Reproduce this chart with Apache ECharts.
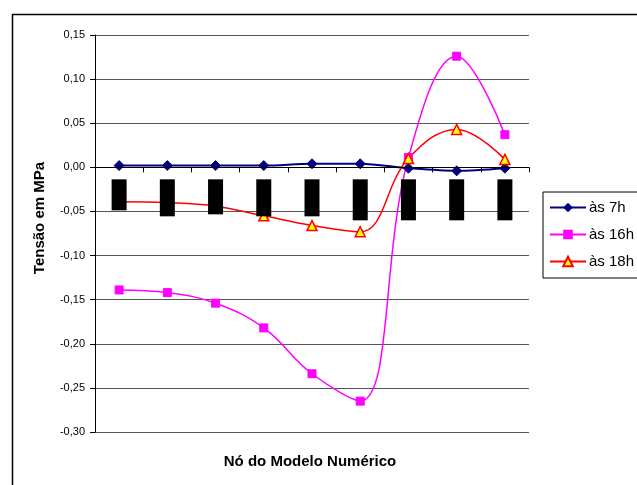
<!DOCTYPE html>
<html>
<head>
<meta charset="utf-8">
<script src="https://cdn.jsdelivr.net/npm/echarts@6/dist/echarts.min.js"></script>
<style>
  html, body { margin: 0; padding: 0; background: #fff; }
  #chart { width: 637px; height: 485px; }
</style>
</head>
<body>
<div id="chart"></div>
<script>
// Nodes of the numerical model (category axis)
const nodes = ['1', '2', '3', '4', '5', '6', '7', '8', '9'];

// Stress (MPa) at each node for three times of day
const stress7h  = [0.002, 0.002, 0.002, 0.002, 0.004, 0.004, -0.001, -0.004, -0.001];
const stress16h = [-0.139, -0.142, -0.154, -0.182, -0.234, -0.265, 0.011, 0.126, 0.037];
const stress18h = [-0.039, -0.040, -0.044, -0.055, -0.066, -0.073, 0.010, 0.043, 0.009];

const seriesNames = ['às 7h', 'às 16h', 'às 18h'];

// Y axis range and step
const yMin = -0.30, yMax = 0.15, yStep = 0.05;

// Plot area
const gridTop = 35, gridHeight = 397;
// Category axis sits on the zero line: shift it up from the grid bottom
const zeroOffset = -gridHeight * (0 - yMin) / (yMax - yMin);

// Node labels are shown as solid blocks of varying height
const labelBlockHeights = [31, 37, 35, 37, 37, 41, 41, 41, 41];
const rich = {};
labelBlockHeights.forEach((h, i) => {
  rich['b' + i] = {
    width: 15, height: h, backgroundColor: '#000', color: '#000',
    fontSize: 10, align: 'center', verticalAlign: 'top'
  };
});

const FONT = '"Liberation Sans", Arial, sans-serif';

const chart = echarts.init(document.getElementById('chart'), null, { renderer: 'canvas' });

chart.setOption({
  animation: false,
  backgroundColor: '#fff',
  textStyle: { fontFamily: FONT },
  grid: { left: 95, top: gridTop, width: 434, height: gridHeight, containLabel: false },
  xAxis: {
    type: 'category',
    data: nodes,
    boundaryGap: true,
    offset: zeroOffset,
    z: 3,
    axisLine: { onZero: false, lineStyle: { color: '#000', width: 1 } },
    axisTick: { show: true, length: 5, interval: 0, lineStyle: { color: '#000' } },
    axisLabel: {
      interval: 0,
      margin: 12,
      verticalAlign: 'top',
      formatter: (v, i) => '{b' + i + '|' + v + '}',
      rich: rich
    },
    splitLine: { show: false }
  },
  yAxis: {
    type: 'value',
    min: yMin, max: yMax, interval: yStep,
    axisLine: { show: true, lineStyle: { color: '#000', width: 1 } },
    axisTick: { show: true, length: 5, lineStyle: { color: '#000' } },
    axisLabel: {
      margin: 10, fontSize: 11, color: '#000', fontFamily: FONT,
      formatter: v => v.toFixed(2).replace('.', ',')
    },
    splitLine: { show: true, lineStyle: { color: '#555', width: 1 } }
  },
  legend: {
    orient: 'vertical',
    left: 543, top: 192,
    padding: [8, 40, 9, 6],
    itemGap: 12,
    itemWidth: 36, itemHeight: 12,
    borderColor: '#000', borderWidth: 1,
    backgroundColor: '#fff',
    textStyle: { fontSize: 15, color: '#000', fontFamily: FONT, padding: [0, 0, 0, -2] },
    data: seriesNames
  },
  series: [
    {
      name: seriesNames[0], type: 'line', data: stress7h,
      smooth: 0.3, symbol: 'diamond', symbolSize: 10,
      lineStyle: { color: '#000080', width: 2 },
      itemStyle: { color: '#000080', borderColor: '#000080' },
      z: 2
    },
    {
      name: seriesNames[1], type: 'line', data: stress16h,
      smooth: 0.4, symbol: 'rect', symbolSize: 8,
      lineStyle: { color: '#FF00FF', width: 1.5 },
      itemStyle: { color: '#FF00FF', borderColor: '#FF00FF' },
      z: 2
    },
    {
      name: seriesNames[2], type: 'line', data: stress18h,
      smooth: 0.4, symbol: 'triangle', symbolSize: 10,
      lineStyle: { color: '#FF0000', width: 1.5 },
      itemStyle: { color: '#FFFF00', borderColor: '#FF0000', borderWidth: 1.5 },
      z: 2
    }
  ],
  graphic: [
    {
      type: 'rect', left: 10, top: 12, z: -10, silent: true,
      shape: { width: 700, height: 600 },
      style: { fill: 'none', stroke: '#000', lineWidth: 1.5 }
    },
    {
      type: 'text', x: 40, y: 218, rotation: Math.PI / 2, z: 10,
      style: {
        text: 'Tensão em MPa', fill: '#000', fontFamily: FONT,
        fontSize: 15, fontWeight: 'bold', align: 'center', verticalAlign: 'middle'
      }
    },
    {
      type: 'text', x: 310, y: 462, z: 10,
      style: {
        text: 'Nó do Modelo Numérico', fill: '#000', fontFamily: FONT,
        fontSize: 15, fontWeight: 'bold', align: 'center', verticalAlign: 'middle'
      }
    }
  ]
});
</script>
</body>
</html>
